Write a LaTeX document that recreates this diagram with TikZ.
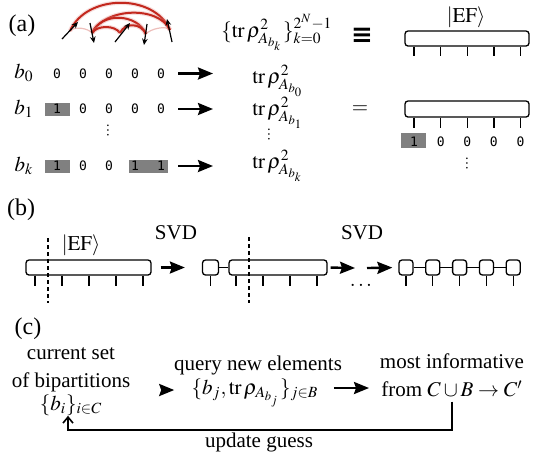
\documentclass[tikz,border=0pt]{standalone}
\usepackage{mathptmx}
\usepackage{fontspec}
\setmainfont{Liberation Serif}
\newfontfamily\bitfont{DejaVu Sans Mono}
\newfontfamily\symfont{DejaVu Sans}
\usetikzlibrary{arrows.meta}
\definecolor{arcred}{RGB}{195,40,30}
\definecolor{bitgray}{RGB}{128,128,128}

\begin{document}
\begin{tikzpicture}[x=0.5pt,y=-0.5pt,font=\fontsize{10.5}{12.5}\selectfont]
\tikzstyle{every node}+=[inner sep=0pt]
\tikzstyle{tbox}=[draw, line width=0.65pt, rounded corners=1.5pt, minimum height=7.5pt]
\tikzstyle{sitebox}=[tbox, minimum width=7pt]
\tikzstyle{legline}=[line width=0.65pt]
\tikzstyle{bitlabel}=[font=\bitfont\fontsize{6.5}{7}\selectfont]
\tikzstyle{onebit}=[fill=bitgray, minimum width=12.5pt, minimum height=6.5pt]
\tikzstyle{bigarrow}=[line width=1.2pt, -{Stealth[length=7.5pt,width=6pt,inset=1pt]}]
\tikzstyle{spinarrow}=[line width=0.6pt, -{Stealth[length=3.2pt,width=2.8pt]}]
\tikzstyle{arcbond}=[arcred, line width=1pt]
\tikzstyle{archalo}=[arcred!50, line width=2.2pt, opacity=0.3]
\tikzstyle{cutline}=[dashed, line width=0.6pt, dash pattern=on 2pt off 1.5pt]
\tikzstyle{panel}=[font=\fontsize{12}{14}\selectfont]
\tikzstyle{vdotsnode}=[rotate=90, font=\fontsize{7}{7}\selectfont]
\useasboundingbox (0,0) rectangle (540,463);
\node[panel] (pa) at (22,26) {(a)};
\coordinate (s1) at (70,31);
\coordinate (s2) at (92,33);
\coordinate (s3) at (120,33);
\coordinate (s4) at (146,34);
\coordinate (s5) at (170,30);
\draw[arcred!30, line width=0.6pt] (s1) .. controls +(4,-5) and +(-4,-5) .. (s2);
\draw[arcred!30, line width=0.6pt] (s4) .. controls +(4,-5) and +(-4,-5) .. (s5);
\foreach \p/\q/\d/\h in {s1/s5/16/37, s2/s5/12/25, s2/s4/9/21, s2/s3/5/8, s3/s4/5/11}
{
\draw[archalo] (\p) .. controls +(\d,-\h) and +(-\d,-\h) .. (\q);
\draw[arcbond] (\p) .. controls +(\d,-\h) and +(-\d,-\h) .. (\q);
}
\draw[spinarrow] (62,39) -- (78,22);
\draw[spinarrow] (90,23) -- (94,43);
\draw[spinarrow] (115,42) -- (130,23);
\draw[spinarrow] (147,24) -- (144,45);
\draw[spinarrow] (172,42) -- (167,19);
\node[anchor=base west] (set) at (221,37) {$\{\mathrm{tr}\,\rho^2_{A_{b_k}}\}_{k=0}^{2^N-1}$};
\node (eqv) at (362,36) {\symfont\bfseries\fontsize{13}{13}\selectfont ≡};
\node (ket0) at (466,17) {$|\mathrm{EF}\rangle$};
\node[tbox, minimum width=62pt] (ef0) at (467,38.5) {};
\foreach \i in {1,...,5}
\draw[legline] (387.5+26.6*\i,0 |- ef0.south) -- ++(0,9);
\node (b0) at (24,73) {$b_0$};
\node (b1) at (24,109) {$b_1$};
\node (bk) at (24,166) {$b_k$};
\node[onebit] (g1) at (57.5,109) {};
\node[onebit] (gk1) at (57.5,166.5) {};
\node[onebit, minimum width=19.5pt] (gk2) at (148.5,166.5) {};
\foreach \d [count=\i] in {0,0,0,0,0}
\node[bitlabel] (r0\i) at (31+26*\i,73.5) {\d};
\foreach \d [count=\i] in {1,0,0,0,0}
\node[bitlabel] (r1\i) at (31+26*\i,109) {\d};
\foreach \d [count=\i] in {1,0,0,1,1}
\node[bitlabel] (rk\i) at (31+26*\i,166) {\d};
\node[vdotsnode] (vd1) at (108,130) {\ldots};
\node[anchor=base west] (t0) at (252,83) {$\mathrm{tr}\,\rho^2_{A_{b_0}}$};
\node[anchor=base west] (t1) at (252,115) {$\mathrm{tr}\,\rho^2_{A_{b_1}}$};
\node[anchor=base west] (tk) at (252,168) {$\mathrm{tr}\,\rho^2_{A_{b_k}}$};
\node[vdotsnode] (vd2) at (269,134) {\ldots};
\draw[bigarrow, shorten <=6.5pt, shorten >=19.5pt] (r05.east) -- (r05.east -| t0.west);
\draw[bigarrow, shorten <=6.5pt, shorten >=19.5pt] (r15.east) -- (r15.east -| t1.west);
\draw[bigarrow, shorten <=6.5pt, shorten >=19.5pt] (rk5.east) -- (rk5.east -| tk.west);
\node (eq) at (360,110) {$=$};
\node[tbox, minimum width=62pt, minimum height=8pt] (ef1) at (467,109) {};
\foreach \i in {1,...,5}
\draw[legline] (387.5+26.6*\i,0 |- ef1.south) -- ++(0,10);
\node[onebit, minimum height=7.5pt] (g2) at (413.5,140.5) {};
\foreach \d [count=\i] in {1,0,0,0,0}
\node[bitlabel] (e1\i) at (387.5+26.6*\i,142) {\d};
\node[vdotsnode] (vd3) at (467,163) {\ldots};
\node[panel] (pb) at (21,210) {(b)};
\node (ket1) at (81,245) {$|\mathrm{EF}\rangle$};
\node[tbox, minimum width=62.5pt] (mb1) at (88.5,267.5) {};
\foreach \i in {1,...,5}
\draw[legline] (8+27*\i,0 |- mb1.south) -- ++(0,10);
\coordinate (c1t) at (48,238);
\coordinate (c1b) at (48,303);
\draw[cutline] (c1t) -- (c1b);
\node (svd1) at (176,233) {SVD};
\node[sitebox, minimum width=8pt] (sa) at (210.5,267.5) {};
\node[tbox, minimum width=49pt] (mb2) at (278,267.5) {};
\draw[legline] (sa) -- (mb2);
\draw[legline] (sa.south) -- ++(0,10);
\foreach \x in {236,263,290,317}
\draw[legline] (\x,0 |- mb2.south) -- ++(0,10);
\coordinate (c2t) at (249,237);
\coordinate (c2b) at (249,303);
\draw[cutline] (c2t) -- (c2b);
\node (svd2) at (362,233) {SVD};
\draw[bigarrow, shorten <=4.5pt, shorten >=8.5pt] (mb1.east) -- (sa.west);
\coordinate (ar2) at (355,268);
\draw[bigarrow, shorten <=1.5pt] (mb2.east) -- (ar2);
\node (dd) at (361,285) {$\dots$};
\foreach \i in {1,...,5}
\node[sitebox] (m\i) at (379.2+26.8*\i,267.5) {};
\foreach \i/\j in {1/2,2/3,3/4,4/5}
\draw[legline] (m\i) -- (m\j);
\foreach \i in {1,...,5}
\draw[legline] (m\i.south) -- ++(0,10);
\coordinate (ar3) at (367,268);
\draw[bigarrow, shorten >=3pt] (ar3) -- (m1.west);
\node[panel] (pc) at (28,329) {(c)};
\node[anchor=base] (cur1) at (71,359) {current set};
\node[anchor=base] (cur2) at (71,387) {of bipartitions};
\node (bi) at (71,405) {$\{b_i\}_{i\in C}$};
\node[anchor=base] (qry) at (258,370) {query new elements};
\node (bj) at (255,393) {$\{b_j,\mathrm{tr}\,\rho_{A_{b_j}}\}_{j\in B}$};
\node[anchor=base] (inf) at (452,368) {most informative};
\node (fr) at (452,389) {from $C\cup B\to C'$};
\draw[bigarrow, shorten <=17pt, shorten >=8.5pt] (cur2.east |- 0,390) -- (bj.west |- 0,390);
\draw[bigarrow, shorten <=7.5pt, shorten >=6pt] (bj.east |- 0,388) -- (fr.west |- 0,388);
\draw[line width=0.8pt, -{Straight Barb[length=3pt,width=5pt]}] (452,0 |- fr.south) ++(0,4) |- (68,430) -- (68,0 |- bi.south);
\node (ug) at (259,442) {update guess};
\end{tikzpicture}
\end{document}
